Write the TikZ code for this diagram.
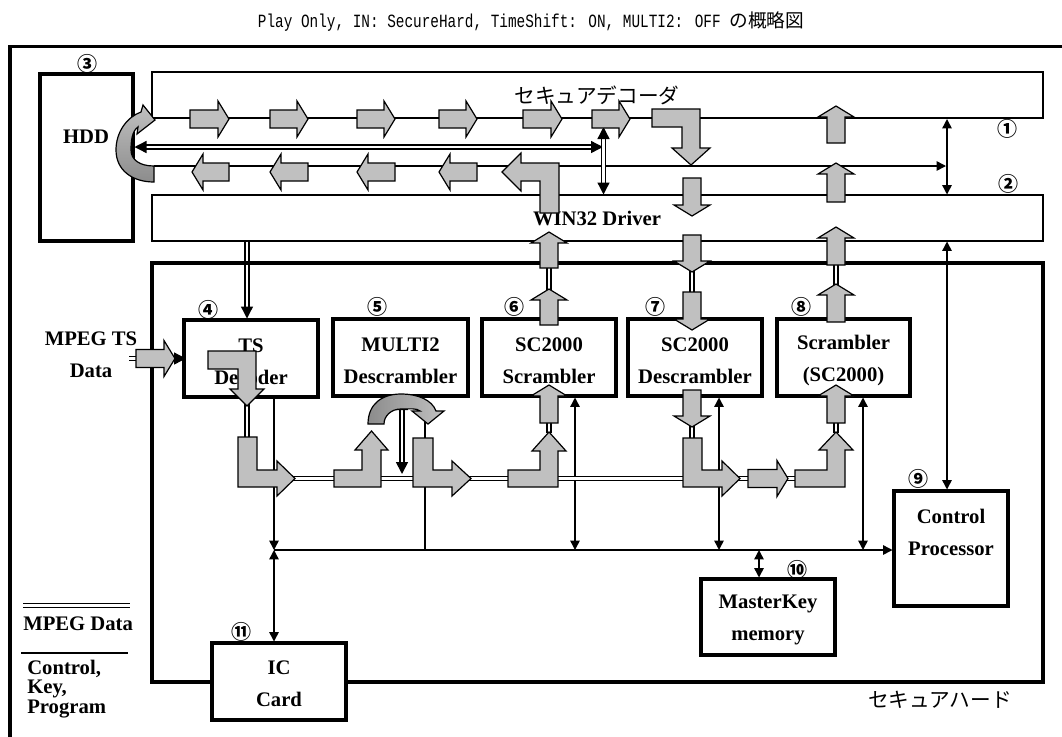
\documentclass[tikz,border=0pt]{standalone}
\usepackage{graphicx}
\usepackage{fontspec}
\setmainfont{Liberation Serif}
\newfontfamily\cjk{Noto Sans CJK JP}
\newfontfamily\monof{Liberation Mono}
\usetikzlibrary{arrows.meta,fit}
\definecolor{ag}{HTML}{C0C0C0}
\definecolor{agd}{HTML}{8C8C8C}
\tikzset{
  thickbox/.style={draw, line width=2.6pt, fill=white, inner sep=0pt},
  thinbox/.style={draw, line width=1.1pt, inner sep=0pt},
  blk/.style={fill=ag, draw=black, line width=0.9pt, line join=miter},
  ctl/.style={line width=1.1pt},
  ctltip/.tip={Triangle[length=7pt,width=7pt]},
  mpeg/.style={double=white, double distance=2.2pt, line width=1pt},
  mtip/.tip={Triangle[length=9pt,width=9pt]},
  lbl/.style={font=\fontsize{15.5}{24}\selectfont\bfseries, align=center, inner sep=0pt},
  num/.style={font=\cjk\bfseries\fontsize{15}{15}\selectfont, inner sep=0pt},
  jp/.style={font=\cjk\fontsize{15.5}{16}\selectfont, inner sep=0pt},
}
\newcommand\blkR[3]{\draw[blk] (#1,#3-9) -- (#2-11,#3-9) -- (#2-11,#3-18) -- (#2,#3) -- (#2-11,#3+18) -- (#2-11,#3+9) -- (#1,#3+9) -- cycle;}
\newcommand\blkL[3]{\draw[blk] (#1,#3-9) -- (#2+11,#3-9) -- (#2+11,#3-18) -- (#2,#3) -- (#2+11,#3+18) -- (#2+11,#3+9) -- (#1,#3+9) -- cycle;}
\newcommand\blkU[3]{\draw[blk] (#3-9,#1) -- (#3-9,#2+11) -- (#3-18,#2+11) -- (#3,#2) -- (#3+18,#2+11) -- (#3+9,#2+11) -- (#3+9,#1) -- cycle;}
\newcommand\blkD[3]{\draw[blk] (#3-9,#1) -- (#3-9,#2-11) -- (#3-18,#2-11) -- (#3,#2) -- (#3+18,#2-11) -- (#3+9,#2-11) -- (#3+9,#1) -- cycle;}
\begin{document}
\begin{tikzpicture}[x=0.75pt,y=-0.75pt]
\useasboundingbox (0,0) rectangle (1062,736);
\clip (0,0) rectangle (1062,736);
% title
\node (title) at (531,22) {\fontsize{14}{14}\selectfont\scalebox{0.77}[1]{\monof Play Only, IN: SecureHard, TimeShift: ON, MULTI2: OFF }{\cjk の概略図}};
% outer frame
\draw[line width=2.6pt] (10,745) -- (10,46.5) -- (1075,46.5);
% long bars
\node[thinbox, fit={(152,72)(1043,118)}] (dec) {};
\node[thinbox, fit={(152,195)(1043,241)}] (drv) {};
\node[jp] at (597,95) {セキュアデコーダ};
\node[lbl] at (597,218) {WIN32 Driver};
% thin control lines
\draw[ctl,-ctltip] (154,166) -- (946,166);
\draw[ctl,ctltip-ctltip] (947,119) -- (947,194.5);
\draw[ctl,ctltip-ctltip] (947,241.5) -- (947,489.5);
\draw[ctl,-ctltip] (274,398) -- (274,550);
\draw[ctl,ctltip-ctltip] (274,550) -- (274,641.5);
\draw[ctl,-ctltip] (274,550) -- (892.5,550);
\draw[ctl] (425,412) -- (425,550);
\draw[ctl,ctltip-ctltip] (575,397.5) -- (575,550);
\draw[ctl,ctltip-ctltip] (719,397.5) -- (719,550);
\draw[ctl,ctltip-ctltip] (863,397.5) -- (863,550);
\draw[ctl,ctltip-ctltip] (759,550) -- (759,577.5);
% MPEG double lines
\draw[mpeg,mtip-mtip] (134.5,147) -- (603,147);
\draw[mpeg,mtip-mtip] (603.5,127) -- (603.5,194.5);
\draw[mpeg,-mtip] (247,241.5) -- (247,318.5);
\draw[mpeg] (247,400) -- (247,438);
\draw[mpeg] (257,478.5) -- (796,478.5);
\draw[mpeg] (549,267) -- (549,290);
\draw[mpeg] (549,422) -- (549,433);
\draw[mpeg] (692,271) -- (692,293);
\draw[mpeg] (692,426) -- (692,439);
\draw[mpeg] (836,264) -- (836,285);
\draw[mpeg] (836,422) -- (836,433);
\draw[mpeg,mtip-mtip,line width=1.3pt] (402,398) -- (402,474);
\draw[mpeg,-mtip] (129,358.5) -- (186,358.5);
% secure hard frame
\node[thickbox, fill=none, fit={(152,263)(1043,682)}] (sh) {};
\node[jp] at (940,700) {セキュアハード};
% boxes
\node[thickbox, fit={(40,74)(133,241)}] (hdd) {};
\node[lbl] at (86,137) {HDD};
\node[thickbox, fit={(184,320)(318,397)}] (ts) {};
\node[lbl] at (251,362) {TS\\Decoder};
\node[thickbox, fit={(333,319)(468,396)}] (m2) {};
\node[lbl] at (400.5,361) {MULTI2\\Descrambler};
\node[thickbox, fit={(482,319)(616,396)}] (scs) {};
\node[lbl] at (549,361) {SC2000\\Scrambler};
\node[thickbox, fit={(628,319)(762,396)}] (scd) {};
\node[lbl] at (695,361) {SC2000\\Descrambler};
\node[thickbox, fit={(777,319)(910,396)}] (scr) {};
\node[lbl] at (843.5,361) {Scrambler\\(SC2000)};
\node[thickbox, fit={(894,491)(1008,606)}] (cp) {};
\node[lbl] at (951,532) {Control\\Processor};
\node[thickbox, fit={(701,579)(835,655)}] (mk) {};
\node[lbl] at (768,620) {MasterKey\\memory};
\node[thickbox, fit={(212,643)(346,720)}] (ic) {};
\node[lbl] at (279,684) {IC\\Card};
% outside labels
\node[lbl] at (91,354.5) {MPEG TS\\Data};
\draw[mpeg] (23,605.5) -- (130,605.5);
\node[lbl, anchor=west] at (23,624) {MPEG Data};
\draw[ctl] (21,653) -- (128,653);
\node[lbl, anchor=north west, align=left, font=\fontsize{15.5}{14.5}\selectfont\bfseries] at (27,660) {Control,\\Key,\\Program};
% numbers
\node[num] at (87,64) {③};
\node[num] at (1007,129) {①};
\node[num] at (1008,184) {②};
\node[num] at (208,310) {④};
\node[num] at (377,307) {⑤};
\node[num] at (514,307) {⑥};
\node[num] at (655,307) {⑦};
\node[num] at (801,307) {⑧};
\node[num] at (918,479) {⑨};
\node[num] at (797,570) {⑩};
\node[num] at (241,632) {⑪};
% HDD U-turn arrow
\draw[line width=0.9pt, top color=ag, bottom color=agd, line join=miter]
  (154,182) .. controls (132,182) and (116,170) .. (116,150)
  .. controls (116,132) and (127,117) .. (141,112)
  -- (143,105) -- (155,120) -- (137,134) -- (138,127)
  .. controls (132,131) and (131,141) .. (131,150)
  .. controls (131,160) and (140,166) .. (154,166) -- cycle;
% top row right arrows
\blkR{190}{229}{119}
\blkR{270}{308}{119}
\blkR{357}{395}{119}
\blkR{439}{477}{119}
\blkR{523}{562}{119}
\blkR{592}{630}{119}
\draw[blk] (652,109) -- (700,109) -- (700,148) -- (710,148) -- (691,165) -- (672,148) -- (682,148) -- (682,127) -- (652,127) -- cycle;
% second row left arrows
\blkL{229}{192}{172}
\blkL{308}{270}{172}
\blkL{395}{357}{172}
\blkL{477}{439}{172}
\draw[blk] (540,213) -- (559,213) -- (559,163) -- (521,163) -- (521,153) -- (502,172) -- (521,191) -- (521,181) -- (540,181) -- cycle;
% vertical columns
\blkU{143}{106}{836}
\blkU{202}{163}{836}
\blkU{265}{227}{836}
\blkU{322}{284}{836}
\blkU{423}{385}{836}
\blkD{178}{216}{692}
\blkD{235}{272}{692}
\blkD{292}{330}{692}
\blkD{390}{427}{692}
\blkU{268}{232}{549}
\blkU{325}{289}{549}
\blkU{423}{385}{549}
% MPEG TS input
\blkR{136}{175}{358.5}
% TS decoder L arrow
\draw[blk] (208,351) -- (256,351) -- (256,389) -- (264,389) -- (247,406) -- (230,389) -- (238,389) -- (238,369) -- (208,369) -- cycle;
% bottom row
\draw[blk] (238,437) -- (257,437) -- (257,470) -- (277,470) -- (277,461) -- (295,478.5) -- (277,496) -- (277,487) -- (238,487) -- cycle;
\draw[blk] (334,470) -- (362,470) -- (362,450) -- (355,450) -- (371.5,431) -- (388,450) -- (381,450) -- (381,487) -- (334,487) -- cycle;
\draw[blk] (413,438) -- (433,438) -- (433,470) -- (452,470) -- (452,461) -- (471,478.5) -- (452,496) -- (452,487) -- (413,487) -- cycle;
\draw[blk] (508,470) -- (540,470) -- (540,451) -- (532,451) -- (549,432) -- (566,451) -- (558,451) -- (558,487) -- (508,487) -- cycle;
\draw[blk] (683,438) -- (702,438) -- (702,470) -- (722,470) -- (722,461) -- (740,478.5) -- (722,496) -- (722,487) -- (683,487) -- cycle;
\blkR{748}{788}{478.5}
\draw[blk] (795,470) -- (827,470) -- (827,450) -- (819,450) -- (836,432) -- (853,450) -- (845,450) -- (845,487) -- (795,487) -- cycle;
% MULTI2 arch
\draw[line width=0.9pt, left color=agd, right color=ag, line join=miter]
  (368,424) .. controls (368,404) and (382,394) .. (401,394)
  .. controls (418,394) and (432,400) .. (436,411)
  -- (444,411) -- (428,424) -- (412,411) -- (420,411)
  .. controls (417,408) and (410,409) .. (401,409)
  .. controls (391,409) and (384,416) .. (384,424) -- cycle;
\end{tikzpicture}
\end{document}
